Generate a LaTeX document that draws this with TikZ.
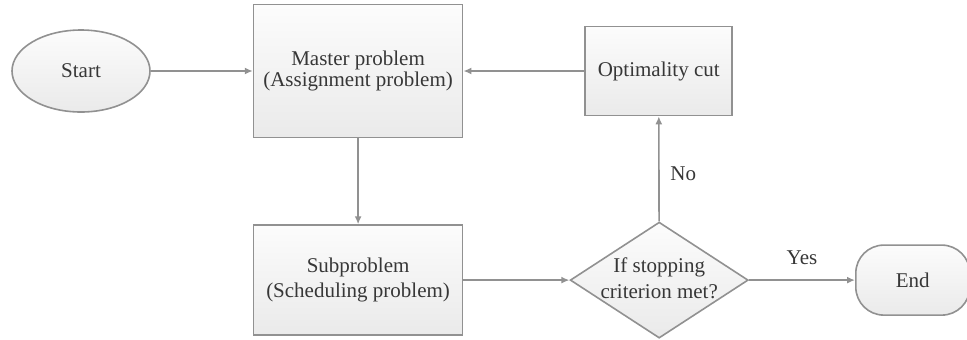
\documentclass[tikz,border=0pt]{standalone}
\usepackage{fontspec}
\setmainfont{Liberation Serif}
\usepackage{tikz}
\usetikzlibrary{shapes.geometric, arrows.meta, positioning}
\definecolor{linegray}{RGB}{145,145,145}
\definecolor{textgray}{RGB}{55,55,55}
\definecolor{filltop}{RGB}{252,252,252}
\definecolor{fillbot}{RGB}{234,234,234}

\begin{document}
\begin{tikzpicture}[
    x=0.5pt, y=-0.5pt,
    box/.style={rectangle, draw=linegray, line width=0.8pt, top color=filltop, bottom color=fillbot, align=center, inner sep=0pt, text=textgray, font=\fontsize{10.5}{12.5}\selectfont},
    term/.style={ellipse, draw=linegray, line width=0.8pt, top color=filltop, bottom color=fillbot, inner sep=0pt, text=textgray, font=\fontsize{10.5}{12.5}\selectfont},
    decision/.style={diamond, draw=linegray, line width=0.8pt, top color=filltop, bottom color=fillbot, inner sep=0pt, text=textgray, font=\fontsize{10.5}{12.5}\selectfont},
    arrow/.style={-{Latex[length=4pt, width=3.5pt]}, draw=linegray, line width=0.8pt},
    lbl/.style={text=textgray, font=\fontsize{10.5}{12.5}\selectfont}
]
\useasboundingbox (0,0) rectangle (967,339);

\node[term, minimum width=69pt, minimum height=41pt] (start) at (81,71) {Start};
\node[box, minimum width=104.5pt, minimum height=66.5pt, right=51pt of start, font=\fontsize{10.5}{9.5}\selectfont] (master) {\\[-2pt]Master problem\\(Assignment problem)};
\node[box, minimum width=73.5pt, minimum height=44.5pt, right=60.5pt of master] (opt) {Optimality cut};
\node[box, minimum width=104.5pt, minimum height=55pt, below=43pt of master] (sub) {Subproblem\\(Scheduling problem)};
\node[decision, minimum width=89pt, minimum height=58pt, right=53pt of sub] (dec) {\makebox[0pt]{\begin{tabular}{@{}c@{}}If stopping\\[0.5pt]criterion met?\end{tabular}}};
\node[box, rounded corners=14pt, minimum width=57pt, minimum height=35pt, right=53pt of dec] (finish) {End};

\draw[arrow] (start) -- (master);
\draw[arrow] (opt) -- (master);
\draw[arrow] (master) -- (sub);
\draw[arrow] (sub) -- (dec);
\draw[arrow] (dec) -- node[lbl, right=2pt, pos=0.45] {No} (opt);
\draw[arrow] (dec) -- node[lbl, above=4pt] {Yes} (finish);
\end{tikzpicture}
\end{document}
